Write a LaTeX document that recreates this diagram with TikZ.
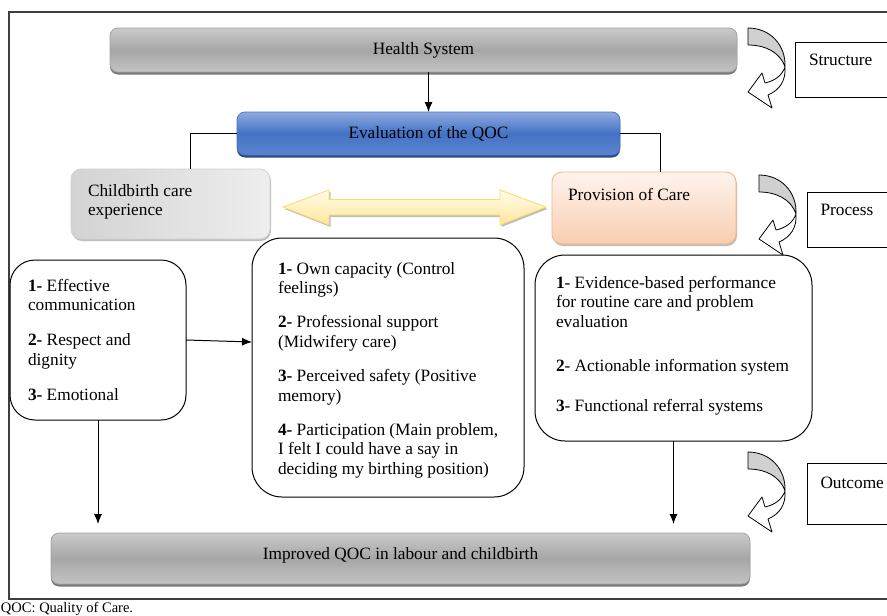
\documentclass[tikz,border=0pt]{standalone}
\usepackage{fontspec}
\setmainfont{Liberation Serif}
\usetikzlibrary{shadows,arrows.meta,calc}

\definecolor{framec}{HTML}{3F3F3F}
\definecolor{barT}{HTML}{CACACA}
\definecolor{barM}{HTML}{A6A6A6}
\definecolor{barB}{HTML}{C4C4C4}
\definecolor{barD}{HTML}{A3A3A3}
\definecolor{barS}{HTML}{7A7A7A}
\definecolor{bluT}{HTML}{8FAAE0}
\definecolor{bluM}{HTML}{4472C4}
\definecolor{bluB}{HTML}{5B84CF}
\definecolor{bluD}{HTML}{4A74C8}
\definecolor{bluS}{HTML}{2C4A82}
\definecolor{cbL}{HTML}{D3D3D3}
\definecolor{cbR}{HTML}{EEEEEE}
\definecolor{cbD}{HTML}{D0D0D0}
\definecolor{prT}{HTML}{FEF4EE}
\definecolor{prB}{HTML}{F9CDB0}
\definecolor{prD}{HTML}{F4B183}
\definecolor{ylT}{HTML}{FFFCEB}
\definecolor{ylB}{HTML}{FFE699}
\definecolor{ylD}{HTML}{FFD966}
\definecolor{crv}{HTML}{D0D0D0}

\begin{document}
\begin{tikzpicture}[x=1pt,y=-1pt,
  every node/.style={inner sep=0pt, outer sep=0pt},
  body/.style={font=\fontsize{17.3}{19.7}\selectfont},
  txt/.style={body, align=left, anchor=north west},
  graybar/.style={body, rounded corners=8pt, draw=barD, line width=0.8pt,
    top color=barT, bottom color=barB, middle color=barM,
    drop shadow={shadow xshift=0pt, shadow yshift=-2.5pt, fill=barS, opacity=1}},
  bluebar/.style={body, rounded corners=8pt, draw=bluD, line width=0.8pt,
    top color=bluT, bottom color=bluB, middle color=bluM,
    drop shadow={shadow xshift=0pt, shadow yshift=-2.5pt, fill=bluS, opacity=1}},
  cbbox/.style={rounded corners=10pt, draw=cbD, line width=0.8pt,
    left color=cbL, right color=cbR,
    drop shadow={shadow xshift=1pt, shadow yshift=-2pt, fill=black!25, opacity=1}},
  prbox/.style={rounded corners=10pt, draw=prD, line width=0.8pt,
    top color=prT, bottom color=prB,
    drop shadow={shadow xshift=1pt, shadow yshift=-2pt, fill=black!25, opacity=1}},
  roundbox/.style={draw=black, line width=1pt, rounded corners=#1},
  sidebox/.style={draw=black, line width=0.9pt},
  conn/.style={draw=black, line width=1pt},
  arr/.style={conn, -{Latex[length=10pt,width=8pt]}},
  curv/.pic={
    \path[fill=white] (748,28) .. controls (770,28) and (786,45) .. (785,67)
      .. controls (786,80) and (780,90) .. (768,95) -- (772,108) -- (748,92)
      -- (762,73) -- (765,83) .. controls (774,81) and (782,76) .. (785,67)
      .. controls (780,52) and (765,45) .. (748,45) -- cycle;
    \fill[crv] (748,28) .. controls (770,28) and (786,45) .. (785,67)
      .. controls (780,52) and (765,45) .. (748,45) -- cycle;
    \draw[line width=0.8pt, line join=round] (748,28) .. controls (770,28) and (786,45) .. (785,67)
      .. controls (786,80) and (780,90) .. (768,95) -- (772,108) -- (748,92)
      -- (762,73) -- (765,83) .. controls (774,81) and (782,76) .. (785,67)
      .. controls (780,52) and (765,45) .. (748,45) -- cycle;
  }
]
\useasboundingbox (0,0) rectangle (887,616);
\clip (0,0) rectangle (887,616);

% outer frame
\draw[framec, line width=1.2pt] (9,12) rectangle (892,599);

% bars
\node[graybar, minimum width=627, minimum height=44] (hs) at (423.5,50) {Health System};
\node[bluebar, minimum width=383, minimum height=43] (ev) at (428.5,133.5) {Evaluation of the QOC};
\node[graybar, minimum width=699, minimum height=51, text depth=10pt] (imp) at (400.5,558.5) {Improved QOC in labour and childbirth};

% upper boxes
\node[cbbox, minimum width=199, minimum height=70] (cb) at (170.5,204) {};
\node[txt] (cbt) at (88,184) {Childbirth care\\experience};
\node[prbox, minimum width=184, minimum height=72] (pr) at (644,208) {};
\node[body, anchor=west] (prt) at (568,194) {Provision of Care};

% double arrow
\draw[ylD, line width=0.8pt, top color=ylT, bottom color=ylB, line join=miter,
  drop shadow={shadow xshift=1.5pt, shadow yshift=-2pt, fill=black!25, opacity=1}]
  (283,207) -- (329,190) -- (329,199.5) -- (500,199.5) -- (500,190) -- (546,207)
  -- (500,225) -- (500,215) -- (329,215) -- (329,225) -- cycle;

% lower boxes
\node[roundbox=25pt, minimum width=176, minimum height=160] (lb) at (98,340) {};
\node[txt] (lbt) at (28,279) {\textbf{1-} Effective\\communication\\[15.3pt]\textbf{2-} Respect and\\dignity\\[15.3pt]\textbf{3-} Emotional};

\node[roundbox=30pt, minimum width=272, minimum height=259] (mid) at (388,367.5) {};
\node[txt] (midt) at (278,262) {\textbf{1-} Own capacity (Control\\feelings)\\[14.3pt]\textbf{2-} Professional support\\(Midwifery care)\\[14.3pt]\textbf{3-} Perceived safety (Positive\\memory)\\[14.3pt]\textbf{4-} Participation (Main problem,\\I felt I could have a say in\\deciding my birthing position)};

\node[roundbox=30pt, minimum width=277, minimum height=186] (rb) at (673.5,348) {};
\node[txt] (rbt) at (556,276) {\textbf{1}- Evidence-based performance\\for routine care and problem\\evaluation\\[24.3pt]\textbf{2}- Actionable information system\\[20.3pt]\textbf{3}- Functional referral systems};

% side boxes
\node[sidebox, minimum width=95, minimum height=55] (st) at (842.5,69.5) {};
\node[body, anchor=west] (stt) at (809,60) {Structure};
\node[sidebox, minimum width=83, minimum height=55] (ps) at (848.5,219.5) {};
\node[body, anchor=west] (pst) at (820.5,210) {Process};
\node[sidebox, minimum width=83, minimum height=61] (oc) at (848.5,493.5) {};
\node[body, anchor=west] (oct) at (820.5,482.5) {Outcome};

% curved arrows
\pic at (0,0) {curv};
\pic at (11,147) {curv};
\pic at (0,424) {curv};

% connectors
\draw[arr] (hs.south -| ev.north) -- (ev.north);
\draw[conn] (ev.west) -| ([xshift=19.5pt]cb.north);
\draw[conn] (ev.east) -| ([xshift=16pt]pr.north);
\draw[arr] (lb.east) -- ([yshift=25.5pt]mid.west);
\coordinate (e1) at (98,524);
\coordinate (e2) at (673.5,524);
\draw[arr] (lb.south) -- (e1);
\draw[arr] (rb.south) -- (e2);

% caption
\node[font=\fontsize{14.5}{17}\selectfont, anchor=north west] (cap) at (1,602) {QOC: Quality of Care.};
\end{tikzpicture}
\end{document}
